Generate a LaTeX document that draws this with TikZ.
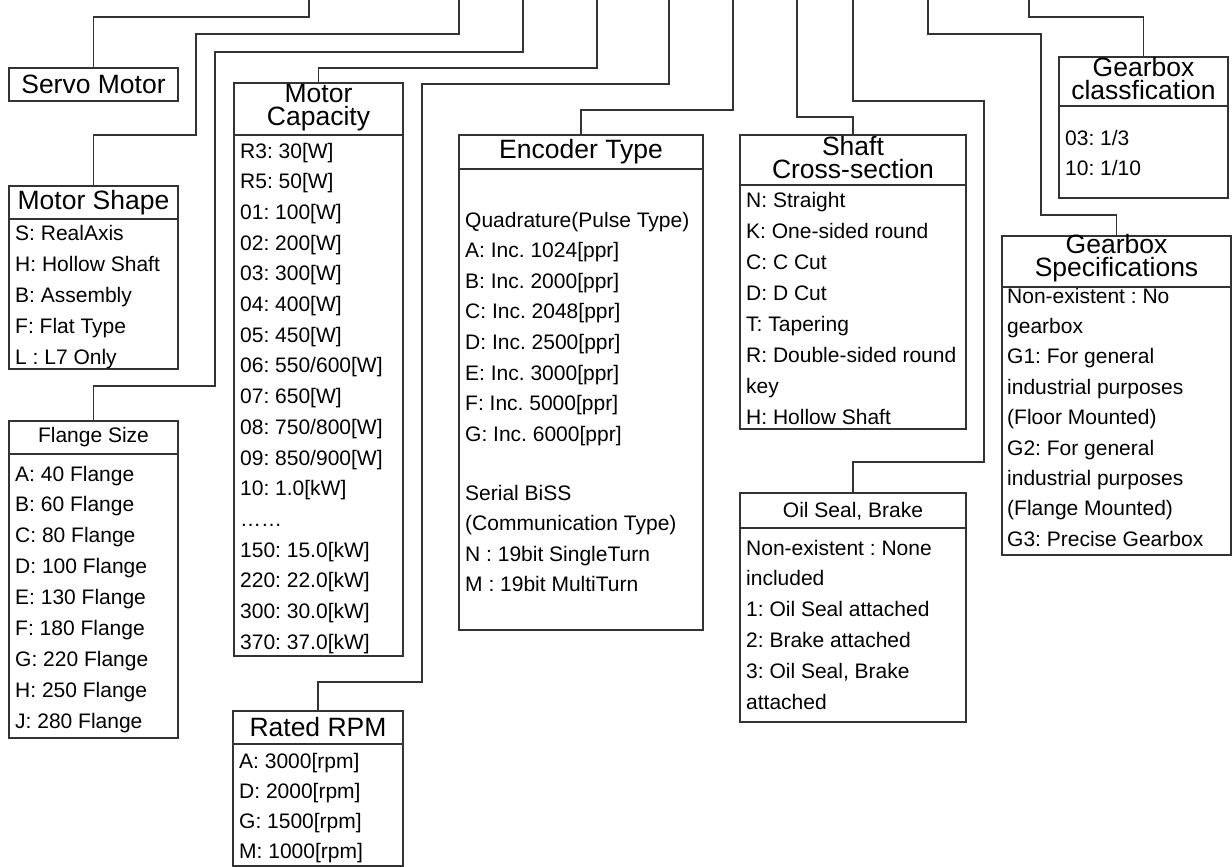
\documentclass[tikz,border=0pt]{standalone}
\usepackage{fontspec}
\setmainfont{Liberation Sans}
\usetikzlibrary{fit}
\frenchspacing

\begin{document}
\begin{tikzpicture}[x=1pt,y=-1pt,
	every node/.style={font=\fontsize{21}{24}\selectfont, inner sep=0pt},
	box/.style={draw=black!80, line width=1.2pt},
	head/.style={font=\fontsize{26.5}{23}\selectfont, align=center},
	item/.style={anchor=base west, yshift=1.5pt},
	wire/.style={draw=black!80, line width=1.2pt}]
	\useasboundingbox (0,0) rectangle (1232,867);
	% top ends of the code lines
	\foreach \n/\x in {1/309, 2/459, 3/523, 4/597, 5/669, 6/733, 7/797, 8/853, 9/928, 10/1029}
		\coordinate (top\n) at (\x,0);

	% boxes (items are placed on their baselines)
	\node[box, fit={(9,68) (178,101)}] (servo) {};
	\node[head] at (93.5,84.5) {Servo Motor};

	\node[box, fit={(9,186) (178,369)}] (shape) {};
	\draw[box] (shape.west |- 0,219) -- (shape.east |- 0,219);
	\node[head] at (93.5,203) {Motor Shape};
	\foreach \t [count=\i from 0] in {S: RealAxis, H: Hollow Shaft, B: Assembly, F: Flat Type, L : L7 Only}
		\node[item] (shape-\i) at (15,241.5+31*\i) {\t};

	\node[box, fit={(9,421) (178,738)}] (flange) {};
	\draw[box] (flange.west |- 0,454) -- (flange.east |- 0,454);
	\node at (93.5,437) {Flange Size};
	\foreach \t [count=\i from 0] in {A: 40 Flange, B: 60 Flange, C: 80 Flange, D: 100 Flange, E: 130 Flange, F: 180 Flange, G: 220 Flange, H: 250 Flange, J: 280 Flange}
		\node[item] (flange-\i) at (15,482.5+30.9*\i) {\t};

	\node[box, fit={(234,83) (403,656)}] (cap) {};
	\draw[box] (cap.west |- 0,135) -- (cap.east |- 0,135);
	\node[head] at (318.5,108) {Motor\\Capacity};
	\foreach \t [count=\i from 0] in {R3: 30[W], R5: 50[W], 01: 100[W], 02: 200[W], 03: 300[W], 04: 400[W], 05: 450[W], 06: 550/600[W], 07: 650[W], 08: 750/800[W], 09: 850/900[W], 10: 1.0[kW], ……, 150: 15.0[kW], 220: 22.0[kW], 300: 30.0[kW], 370: 37.0[kW]}
		\node[item] (cap-\i) at (240,159.5+30.7*\i) {\t};

	\node[box, fit={(233,711) (403,866)}] (rpm) {};
	\draw[box] (rpm.west |- 0,744) -- (rpm.east |- 0,744);
	\node[head] at (318,727) {Rated RPM};
	\foreach \t [count=\i from 0] in {A: 3000[rpm], D: 2000[rpm], G: 1500[rpm], M: 1000[rpm]}
		\node[item] (rpm-\i) at (239,769.5+30.3*\i) {\t};

	\node[box, fit={(459,135) (703,630)}] (enc) {};
	\draw[box] (enc.west |- 0,169) -- (enc.east |- 0,169);
	\node[head] at (581,152) {Encoder Type};
	\foreach \t [count=\i from 0] in {Quadrature(Pulse Type), A: Inc. 1024[ppr], B: Inc. 2000[ppr], C: Inc. 2048[ppr], D: Inc. 2500[ppr], E: Inc. 3000[ppr], F: Inc. 5000[ppr], G: Inc. 6000[ppr]}
		\node[item] (enc-\i) at (465,228.5+30.6*\i) {\t};
	\foreach \t [count=\i from 0] in {Serial BiSS, (Communication Type), N : 19bit SingleTurn, M : 19bit MultiTurn}
		\node[item] (biss-\i) at (465,501.5+30.6*\i) {\t};

	\node[box, fit={(740,135) (966,429)}] (shaft) {};
	\draw[box] (shaft.west |- 0,185) -- (shaft.east |- 0,185);
	\node[head] at (853,158) {Shaft\\Cross-section};
	\foreach \t [count=\i from 0] in {N: Straight, K: One-sided round, C: C Cut, D: D Cut, T: Tapering, R: Double-sided round, key, H: Hollow Shaft}
		\node[item] (shaft-\i) at (746,208.5+31*\i) {\t};

	\node[box, fit={(740,493) (966,722)}] (oil) {};
	\draw[box] (oil.west |- 0,528) -- (oil.east |- 0,528);
	\node at (853,511) {Oil Seal, Brake};
	\foreach \t [count=\i from 0] in {Non-existent : None, included, 1: Oil Seal attached, 2: Brake attached, {3: Oil Seal, Brake}, attached}
		\node[item] (oil-\i) at (746,556.5+30.8*\i) {\t};

	\node[box, fit={(1059,57) (1228,198)}] (gclass) {};
	\draw[box] (gclass.west |- 0,106) -- (gclass.east |- 0,106);
	\node[head] at (1143.5,79) {Gearbox\\classfication};
	\foreach \t [count=\i from 0] in {03: 1/3, 10: 1/10}
		\node[item] (gclass-\i) at (1065,146.5+30*\i) {\t};

	\node[box, fit={(1002,236) (1231,555)}] (gspec) {};
	\draw[box] (gspec.west |- 0,287) -- (gspec.east |- 0,287);
	\node[head] at (1116.5,258) {Gearbox\\Specifications};
	\foreach \t [count=\i from 0] in {Non-existent : No, gearbox, G1: For general, industrial purposes, (Floor Mounted), G2: For general, industrial purposes, (Flange Mounted), G3: Precise Gearbox}
		\node[item] (gspec-\i) at (1007,304.5+30.4*\i) {\t};

	% code lines
	\draw[wire] (servo.north) |- (309,17) -- (top1);
	\draw[wire] (shape.north) |- (196,135) |- (459,34) -- (top2);
	\draw[wire] (flange.north) |- (215,386) |- (523,52) -- (top3);
	\draw[wire] (cap.north) |- (597,68) -- (top4);
	\draw[wire] (rpm.north) |- (422,682) |- (669,84) -- (top5);
	\draw[wire] (enc.north) |- (733,110) -- (top6);
	\draw[wire] (shaft.north) |- (797,117) -- (top7);
	\draw[wire] (oil.north) |- (984,462) |- (853,101) -- (top8);
	\draw[wire] (gspec.north) |- (1041,215) |- (928,34) -- (top9);
	\draw[wire] (gclass.north) |- (1029,17) -- (top10);
\end{tikzpicture}
\end{document}
